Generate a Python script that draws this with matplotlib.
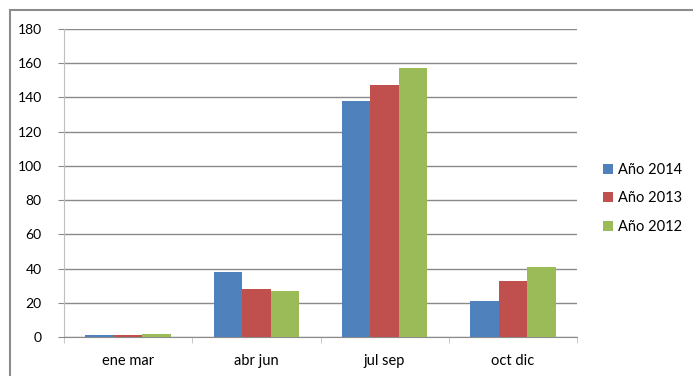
import matplotlib.pyplot as plt
from matplotlib.patches import Rectangle
import numpy as np

plt.rcParams['font.family'] = ['Lato', 'DejaVu Sans']

trimestres = ['ene mar', 'abr jun', 'jul sep', 'oct dic']
series = ['Año 2014', 'Año 2013', 'Año 2012']
v2014 = [1, 38, 138, 21]
v2013 = [1, 28, 147, 33]
v2012 = [2, 27, 157, 41]
colores = ['#4f81bd', '#c0504d', '#9bbb59']

W, H = 693, 376
fig = plt.figure(figsize=(W / 100, H / 100), dpi=100)

# marco exterior del gráfico
fig.patches.append(Rectangle((10 / W, -0.1), 1.2, 1 - 10 / H + 0.1,
                             transform=fig.transFigure, fill=False,
                             edgecolor='#8c8c8c', linewidth=1.5))

ax = fig.add_axes([64 / W, (H - 337) / H, (577 - 64) / W, (337 - 29) / H])

x = np.arange(len(trimestres))
ancho = 0.222
for i, (nombre, vals) in enumerate(zip(series, [v2014, v2013, v2012])):
    ax.bar(x + (i - 1) * ancho, vals, ancho, color=colores[i], label=nombre,
           zorder=3)

ax.set_xlim(-0.5, len(trimestres) - 0.5)
ax.set_ylim(0, 180)
ax.set_yticks(range(0, 181, 20))
ax.yaxis.grid(True, color='#8a8a8a', linewidth=1)
ax.set_axisbelow(True)

ax.set_xticks(x)
ax.set_xticklabels(trimestres)
ax.set_xticks(np.arange(-0.5, len(trimestres)), minor=True)
ax.tick_params(axis='x', which='major', length=0, pad=12, labelsize=10.5)
ax.tick_params(axis='x', which='minor', length=4, color='#bfbfbf',
               direction='out')
ax.tick_params(axis='y', length=4, color='#8a8a8a', pad=12, labelsize=10)

for lado in ['top', 'right']:
    ax.spines[lado].set_visible(False)
ax.spines['left'].set_color('#bfbfbf')
ax.spines['bottom'].set_color('#8a8a8a')

ax.legend(loc='center left', bbox_to_anchor=(1.025, 0.45), frameon=False,
          handlelength=0.7, handleheight=0.7, handletextpad=0.3,
          labelspacing=1.0, fontsize=10.5)

fig.savefig('out.png', dpi=100)
